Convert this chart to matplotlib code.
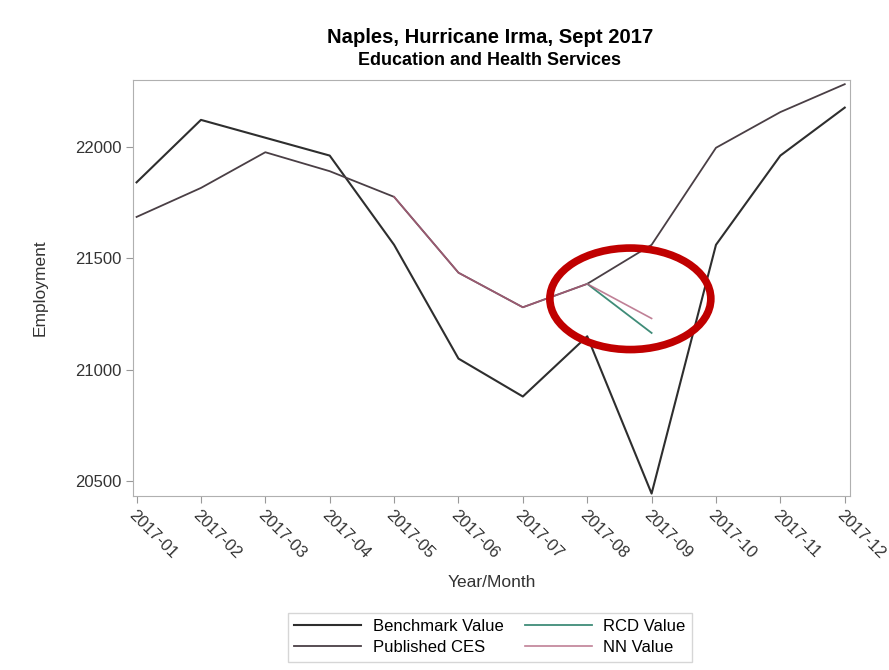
import matplotlib.pyplot as plt
from matplotlib.patches import Ellipse

plt.rcParams['font.family'] = ['Liberation Sans', 'DejaVu Sans']

months = ['2017-01', '2017-02', '2017-03', '2017-04', '2017-05', '2017-06',
          '2017-07', '2017-08', '2017-09', '2017-10', '2017-11', '2017-12']

benchmark = [21840, 22120, 22040, 21960, 21560, 21050, 20880, 21150, 20445, 21560, 21960, 22175]
published = [21685, 21815, 21975, 21890, 21775, 21435, 21280, 21385, 21560, 21995, 22155, 22280]

# NN and RCD estimates only differ from the published series in September
nn_months = months[4:9]
nn_value = [21775, 21435, 21280, 21385, 21230]
rcd_months = months[7:9]
rcd_value = [21385, 21165]

fig = plt.figure(figsize=(8.89, 6.70), dpi=100)
ax = fig.add_axes([0.150, 0.260, 0.806, 0.621])

x = list(range(len(months)))
ax.plot(x, benchmark, color='#2e2e2e', lw=1.5, label='Benchmark Value')
ax.plot(x, published, color='#4a3f45', lw=1.3, label='Published CES')
ax.plot([months.index(m) for m in rcd_months], rcd_value, color='#3f8c78', lw=1.3, label='RCD Value')
ax.plot([months.index(m) for m in nn_months], nn_value, color='#b0607c', lw=1.2, alpha=0.8, label='NN Value')

ax.add_patch(Ellipse((7.67, 21318), 2.5, 455, fill=False, ec='#c00000', lw=5.5, zorder=5))

ax.set_xlim(-0.05, 11.08)
ax.set_ylim(20435, 22300)
ax.set_yticks([20500, 21000, 21500, 22000])
ax.set_xticks(x)
ax.set_xticklabels(months, rotation=-45, ha='left', rotation_mode='anchor')
ax.tick_params(colors='#999999', labelcolor='#333333', labelsize=12, length=5)
for s in ax.spines.values():
    s.set_color('#b0b0b0')

ax.set_xlabel('Year/Month', fontsize=12.5, color='#333333', labelpad=10)
ax.set_ylabel('Employment', fontsize=12.5, color='#333333', labelpad=20)

fig.text(0.551, 0.944, 'Naples, Hurricane Irma, Sept 2017', ha='center', va='center',
         fontsize=14.6, fontweight='bold')
fig.text(0.551, 0.909, 'Education and Health Services', ha='center', va='center',
         fontsize=12.9, fontweight='bold')

fig.legend(loc='center', bbox_to_anchor=(0.551, 0.049), ncol=2, fontsize=12,
           handlelength=4.0, columnspacing=1.3, handletextpad=0.7, frameon=True,
           fancybox=False, edgecolor='#cccccc', borderpad=0.4, labelspacing=0.35)

fig.savefig('out.png', dpi=100)
